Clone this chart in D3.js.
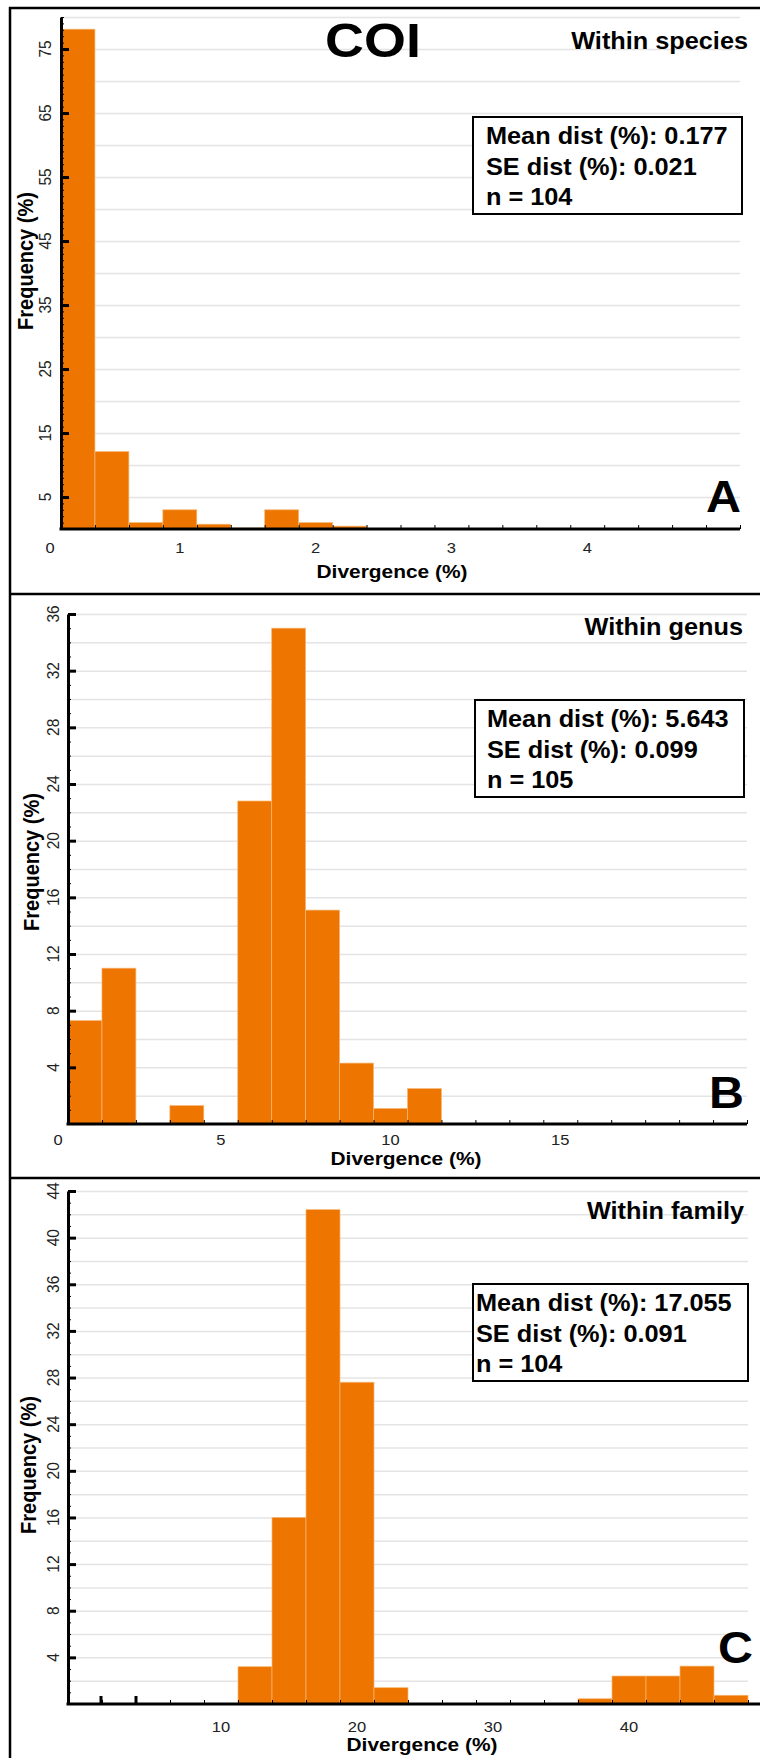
<!DOCTYPE html>
<html><head><meta charset="utf-8">
<script src="https://cdn.jsdelivr.net/npm/d3@7"></script>
<style>html,body{margin:0;padding:0;background:#fff}svg{display:block}</style>
</head><body>
<svg id="chart" width="760" height="1758"></svg>
<script>
// ---------- data ----------
const figureTitle = "COI";
const panelTitles = ["Within species", "Within genus", "Within family"];
const panelLetters = ["A", "B", "C"];
const binWidths = [0.25, 1, 2.5];
const xDomains = [[0, 5], [0, 20], [0, 50]];
const freqA = [78.1, 12.1, 1.0, 3.0, 0.75, 0.15, 3.0, 1.0, 0.45, 0, 0, 0, 0, 0, 0, 0, 0, 0, 0, 0];
const freqB = [7.3, 11.0, 0, 1.3, 0, 22.8, 35.0, 15.1, 4.3, 1.1, 2.5, 0, 0, 0, 0, 0, 0, 0, 0, 0];
const freqC = [0, 0, 0, 0, 0, 3.2, 16.0, 42.4, 27.6, 1.4, 0, 0, 0, 0, 0, 0.45, 2.4, 2.4, 3.25, 0.75];
const xTickLabelsA = ["1", "2", "3", "4"];
const xTickPosA = [0.875, 1.875, 2.875, 3.875];
const xTickLabelsB = ["5", "10", "15"];
const xTickPosB = [4.5, 9.5, 14.5];
const xTickLabelsC = ["10", "20", "30", "40"];
const xTickPosC = [11.25, 21.25, 31.25, 41.25];
const yMax = [80, 36, 44];
const yGridStep = [5, 2, 2];
const yLabelTicksA = [5, 15, 25, 35, 45, 55, 65, 75];
const yLabelTicksB = [4, 8, 12, 16, 20, 24, 28, 32, 36];
const yLabelTicksC = [4, 8, 12, 16, 20, 24, 28, 32, 36, 40, 44];
const statsA = ["Mean dist (%): 0.177", "SE dist (%): 0.021", "n = 104"];
const statsB = ["Mean dist (%): 5.643", "SE dist (%): 0.099", "n = 105"];
const statsC = ["Mean dist (%): 17.055", "SE dist (%): 0.091", "n = 104"];
const xAxisTitle = "Divergence (%)";
const yAxisTitle = "Frequency (%)";

// ---------- layout ----------
const panels = [
  {freq: freqA, xl: xTickLabelsA, xp: xTickPosA, yl: yLabelTicksA, stats: statsA,
   x0: 61, x1: 740, yTop: 17, yBase: 529, axisEnd: 740,
   ylabX: 45, ytitle: [25, 261], xtitle: [392, 578], xlabBase: 553, origin: [50, 553],
   within: [748, 49], letter: [741, 512], box: [473, 117, 742, 214], textX: 486},
  {freq: freqB, xl: xTickLabelsB, xp: xTickPosB, yl: yLabelTicksB, stats: statsB,
   x0: 68, x1: 747, yTop: 614, yBase: 1124, axisEnd: 747,
   ylabX: 53, ytitle: [31, 862], xtitle: [406, 1165], xlabBase: 1145, origin: [58, 1145],
   within: [743, 635], letter: [744, 1108], box: [475, 700, 744, 797], textX: 487},
  {freq: freqC, xl: xTickLabelsC, xp: xTickPosC, yl: yLabelTicksC, stats: statsC,
   x0: 68, x1: 748, yTop: 1191, yBase: 1704, axisEnd: 760,
   ylabX: 53, ytitle: [28, 1465], xtitle: [422, 1751], xlabBase: 1732, origin: null,
   within: [744, 1219], letter: [753, 1663], box: [473, 1284, 748, 1381], textX: 476,
   extraTicks: [101, 136]}
];

const svg = d3.select("#chart");
const SX = 1.1; // horizontal stretch of the original lettering
const FONT = "'Liberation Sans', Arial, Helvetica, sans-serif";

function txt(g, x, y, s, o) {
  o = o || {};
  const t = g.append("text")
    .attr("transform", `translate(${x},${y}) scale(${SX},1)` + (o.rot ? " rotate(-90)" : ""))
    .attr("font-family", FONT)
    .attr("font-size", o.size || 15)
    .attr("font-weight", o.bold ? "bold" : "normal")
    .attr("fill", o.fill || "#000")
    .attr("text-anchor", o.anchor || "start")
    .text(s);
  if (o.dy) t.attr("dy", o.dy);
  return t;
}

panels.forEach((p, i) => {
  const g = svg.append("g");
  const x = d3.scaleLinear().domain(xDomains[i]).range([p.x0, p.x1]);
  const y = d3.scaleLinear().domain([0, yMax[i]]).range([p.yBase, p.yTop]);
  const w = binWidths[i];

  // gridlines
  const gridVals = d3.range(yGridStep[i], yMax[i] + 0.001, yGridStep[i]);
  g.append("g").attr("transform", `translate(${p.x0},0)`)
    .call(d3.axisRight(y).tickValues(gridVals).tickSize(p.x1 - p.x0).tickFormat(""))
    .call(a => a.select(".domain").remove())
    .call(a => a.selectAll(".tick line").attr("stroke", "#e4e4e4").attr("stroke-width", 1.5));

  // bars
  g.append("g").selectAll("rect").data(p.freq).join("rect")
    .attr("x", (d, k) => x(k * w))
    .attr("width", (d, k) => x((k + 1) * w) - x(k * w))
    .attr("y", d => y(d))
    .attr("height", d => y(0) - y(d))
    .attr("fill", "#ee7600")
    .attr("stroke", "#f6b877")
    .attr("stroke-width", 0.7);

  // y axis: minor ticks
  g.append("g").attr("transform", `translate(${p.x0},0)`)
    .call(d3.axisRight(y).tickValues(d3.range(1, yMax[i] + 0.001, 1)).tickSize(3).tickFormat(""))
    .call(a => a.select(".domain").remove())
    .call(a => a.selectAll(".tick line").attr("stroke", "#000").attr("stroke-width", 1));
  // y axis: major ticks
  g.append("g").attr("transform", `translate(${p.x0},0)`)
    .call(d3.axisRight(y).tickValues(p.yl).tickSize(8).tickSizeOuter(0).tickFormat(""))
    .call(a => a.select(".domain").attr("stroke", "#000").attr("stroke-width", 3))
    .call(a => a.selectAll(".tick line").attr("stroke", "#000").attr("stroke-width", 3));
  // y tick labels
  p.yl.forEach(v => txt(g, p.ylabX, y(v), String(v), {rot: true, anchor: "middle", dy: "0.35em", size: 15.5, fill: "#222"}));

  // x axis
  const edges = d3.range(0, xDomains[i][1] + 1e-9, w);
  g.append("g").attr("transform", `translate(0,${p.yBase})`)
    .call(d3.axisTop(x).tickValues(edges).tickSize(4).tickSizeOuter(0).tickFormat(""))
    .call(a => a.select(".domain").remove())
    .call(a => a.selectAll(".tick line").attr("stroke", "#000").attr("stroke-width", 1));
  g.append("line").attr("x1", p.x0 - 1.5).attr("x2", p.axisEnd).attr("y1", p.yBase).attr("y2", p.yBase)
    .attr("stroke", "#000").attr("stroke-width", 3);
  if (p.extraTicks) p.extraTicks.forEach(xx => g.append("line")
    .attr("x1", xx).attr("x2", xx).attr("y1", p.yBase).attr("y2", p.yBase - 8)
    .attr("stroke", "#000").attr("stroke-width", 3));
  p.xl.forEach((lab, k) => txt(g, x(p.xp[k]), p.xlabBase, lab, {anchor: "middle", size: 15, fill: "#222"}));
  if (p.origin) txt(g, p.origin[0], p.origin[1], "0", {anchor: "middle", size: 15, fill: "#222"});

  // axis titles
  txt(g, p.xtitle[0], p.xtitle[1], xAxisTitle, {anchor: "middle", size: 19, bold: true});
  txt(g, p.ytitle[0], p.ytitle[1], yAxisTitle, {rot: true, anchor: "middle", dy: "0.35em", size: 20, bold: true});

  // panel title & letter
  txt(g, p.within[0], p.within[1], panelTitles[i], {anchor: "end", size: 23, bold: true});
  txt(g, p.letter[0], p.letter[1], panelLetters[i], {anchor: "end", size: 44, bold: true});

  // stats box
  g.append("rect").attr("x", p.box[0]).attr("y", p.box[1])
    .attr("width", p.box[2] - p.box[0]).attr("height", p.box[3] - p.box[1])
    .attr("fill", "#fff").attr("stroke", "#000").attr("stroke-width", 2);
  p.stats.forEach((s, k) => txt(g, p.textX, p.box[1] + 27 + k * 30.5, s, {size: 23, bold: true}));
});

// figure title
txt(svg, 373, 57, figureTitle, {anchor: "middle", size: 49, bold: true});

// frame lines
const frame = svg.append("g").attr("stroke", "#000").attr("stroke-width", 2.5);
frame.append("line").attr("x1", 10).attr("x2", 10).attr("y1", 7).attr("y2", 1758);
[8, 594, 1178].forEach(yy => frame.append("line").attr("x1", 9).attr("x2", 760).attr("y1", yy).attr("y2", yy));
</script>
</body></html>
